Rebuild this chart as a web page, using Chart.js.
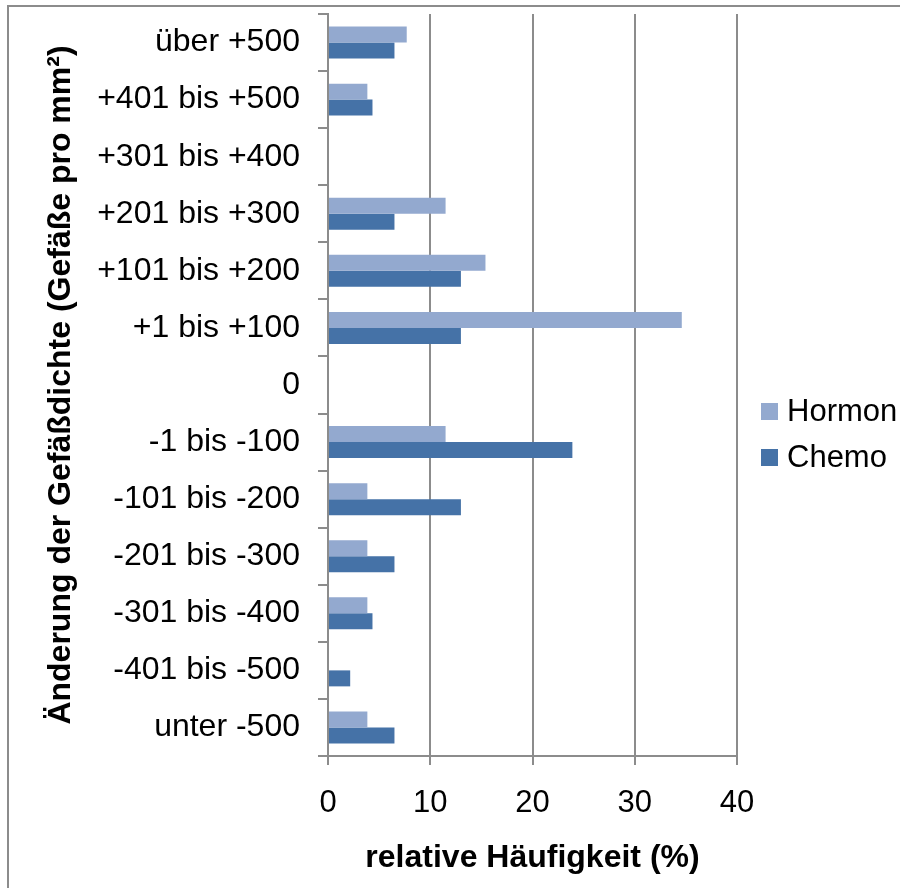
<!DOCTYPE html>
<html>
<head>
<meta charset="utf-8">
<script src="https://cdn.jsdelivr.net/npm/chart.js@4"></script>
<style>
	body { margin: 0; width: 900px; height: 888px; overflow: hidden; background: #fff; font-family: "Liberation Sans", Arial, sans-serif; }
	#wrap { position: relative; width: 900px; height: 888px; overflow: hidden; }
	#frame { position: absolute; left: 7px; top: 5px; width: 1000px; height: 1000px; border-left: 2px solid #8c8c8c; border-top: 2px solid #8c8c8c; }
	#chart { position: absolute; left: 0; top: 0; }
	.legend { position: absolute; left: 761px; font-size: 31px; color: #000; line-height: 34px; white-space: nowrap; }
	.legend span.box { display: inline-block; width: 17px; height: 17px; margin-right: 9px; vertical-align: 1px; }
</style>
</head>
<body>
<div id="wrap">
	<div id="frame"></div>
	<canvas id="chart" width="900" height="888"></canvas>
	<div class="legend" style="top:394px"><span class="box" style="background:#93a9cf"></span>Hormon</div>
	<div class="legend" style="top:440px"><span class="box" style="background:#4572a7"></span>Chemo</div>
</div>
<script>
// Kategorien (oben nach unten)
var categories = ["über +500", "+401 bis +500", "+301 bis +400", "+201 bis +300", "+101 bis +200", "+1 bis +100", "0",
	"-1 bis -100", "-101 bis -200", "-201 bis -300", "-301 bis -400", "-401 bis -500", "unter -500"];

// relative Häufigkeit in %
var hormon = [7.7, 3.85, 0, 11.5, 15.4, 34.6, 0, 11.5, 3.85, 3.85, 3.85, 0, 3.85];
var chemo = [6.5, 4.35, 0, 6.5, 13.0, 13.0, 0, 23.9, 13.0, 6.5, 4.35, 2.17, 6.5];

var xTicks = [0, 10, 20, 30, 40];

var axisGrey = '#8c8c8c';

drawChart();

function drawChart(){
	new Chart(document.getElementById("chart"), {
		type: 'bar',
		data: {
			labels: categories,
			datasets: [
				{ label: "Hormon", data: hormon, backgroundColor: '#93a9cf', categoryPercentage: 0.56, barPercentage: 1 },
				{ label: "Chemo", data: chemo, backgroundColor: '#4572a7', categoryPercentage: 0.56, barPercentage: 1 }
			]
		},
		options: {
			indexAxis: 'y',
			responsive: false,
			animation: false,
			layout: { padding: { left: 0, top: 14, right: 163, bottom: 0 } },
			plugins: {
				legend: { display: false },
				tooltip: { enabled: false }
			},
			scales: {
				x: {
					min: 0,
					max: 40,
					afterBuildTicks: function(s){
						s.ticks = xTicks.map(function(v){ return { value: v }; });
					},
					afterFit: function(s){
						s.height = 132;
						s.paddingLeft = 0;
						s.paddingRight = 0;
					},
					grid: { color: axisGrey, lineWidth: 2, tickLength: 9 },
					border: { color: axisGrey, width: 2 },
					ticks: { color: '#000', padding: 20, font: { family: 'Liberation Sans', size: 31 } },
					title: {
						display: true,
						text: 'relative Häufigkeit (%)',
						color: '#000',
						padding: { top: 0, bottom: 11 },
						font: { family: 'Liberation Sans', size: 32, weight: 'bold' }
					}
				},
				y: {
					afterFit: function(s){
						s.width = 328;
						s.paddingTop = 0;
						s.paddingBottom = 0;
					},
					grid: { color: axisGrey, lineWidth: 2, offset: true, drawOnChartArea: false, tickLength: 10 },
					border: { color: axisGrey, width: 2 },
					ticks: { color: '#000', padding: 18, font: { family: 'Liberation Sans', size: 32 } },
					title: {
						display: true,
						text: 'Änderung der Gefäßdichte (Gefäße pro mm²)',
						color: '#000',
						padding: { top: 42, bottom: 0 },
						font: { family: 'Liberation Sans', size: 32, weight: 'bold' }
					}
				}
			}
		}
	});
}
</script>
</body>
</html>
